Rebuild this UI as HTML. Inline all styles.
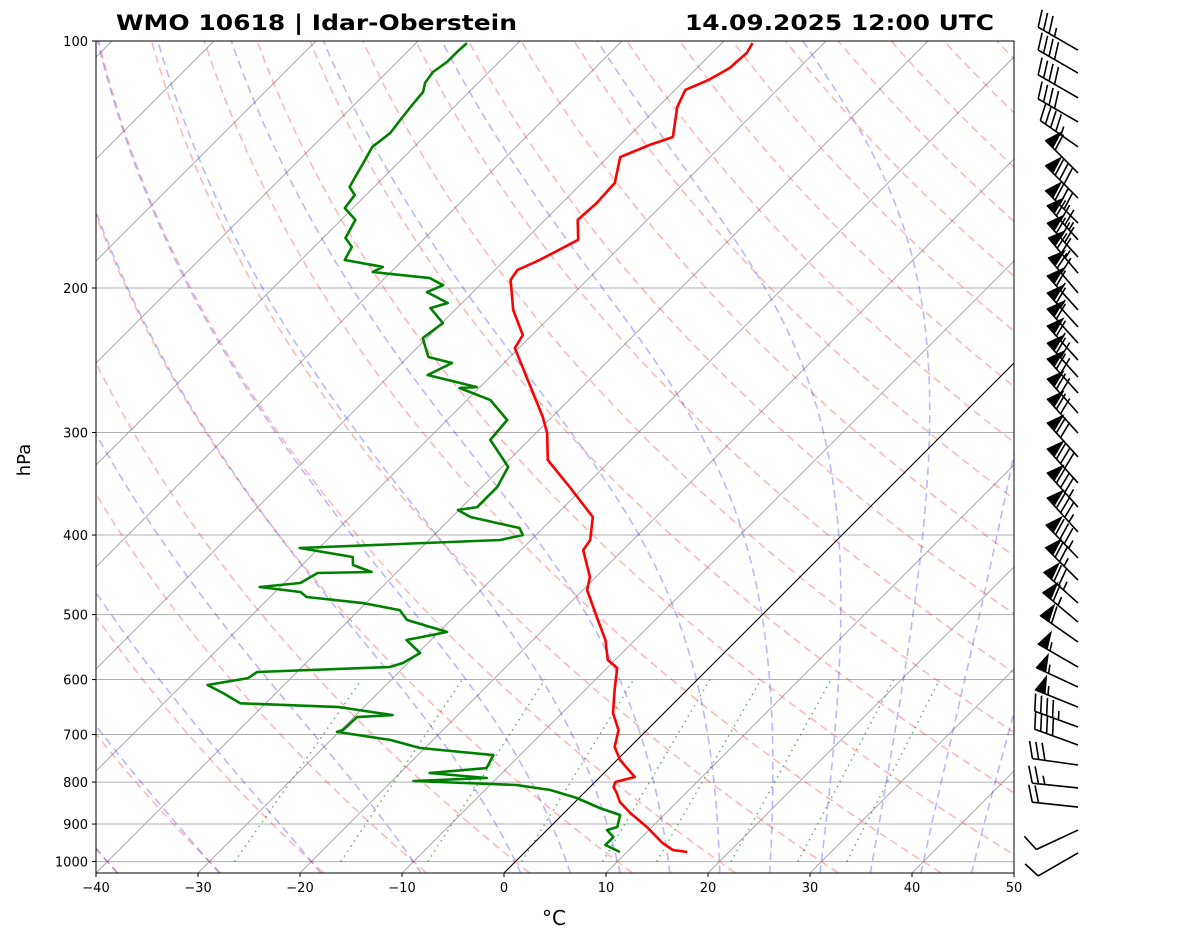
<!DOCTYPE html>
<html><head><meta charset="utf-8"><title>Skew-T Idar-Oberstein</title>
<style>html,body{margin:0;padding:0;background:#fff;}svg{display:block;font-family:"DejaVu Sans","Liberation Sans",sans-serif;}</style>
</head><body>
<svg id="chart" width="1181" height="941" viewBox="0 0 1181 941" xmlns="http://www.w3.org/2000/svg">
<defs><clipPath id="plotclip"><rect x="96" y="41" width="918" height="832"/></clipPath></defs>
<rect x="0" y="0" width="1181" height="941" fill="#fff"/>
<text x="116" y="30" font-size="21" font-weight="bold" textLength="401" lengthAdjust="spacingAndGlyphs">WMO 10618 | Idar-Oberstein</text>
<text x="685" y="30" font-size="21" font-weight="bold" textLength="309" lengthAdjust="spacingAndGlyphs">14.09.2025 12:00 UTC</text>
<g id="bg" clip-path="url(#plotclip)"></g>
<g id="series" clip-path="url(#plotclip)"></g>
<rect x="96" y="41" width="918" height="832" fill="none" stroke="#000" stroke-width="1"/>
<g id="axes"></g>
<g id="barbs"></g>
<text x="554" y="925" font-size="20" text-anchor="middle">°C</text>
<text x="30" y="460" font-size="18" text-anchor="middle" transform="rotate(-90 30 460)">hPa</text>
</svg>
<script>
// ---- data ----
const tempP=[100.6,103.4,107.9,111.6,114.7,120.4,130.9,133.9,138.5,148.9,157.6,165.2,174.7,184.9,190.1,195.5,212.7,228.2,236.7,256.8,287.2,300.5,324.0,349.6,380.2,405.6,417.2,450.0,466.7,503.4,537.0,568.0,580.9,617.9,659.0,691.2,725.0,751.9,788.6,799.8,811.1,824.8,846.0,872.6,907.5,949.1,968.0,973.4];
const tempT=[-57.0,-56.6,-56.8,-57.7,-59.0,-58.1,-55.6,-57.1,-58.8,-56.8,-56.6,-56.8,-54.8,-56.6,-57.8,-57.5,-54.3,-50.9,-50.4,-46.4,-40.9,-38.9,-36.2,-31.4,-26.2,-24.2,-23.9,-20.6,-19.6,-16.0,-12.9,-10.7,-9.0,-7.1,-5.0,-2.8,-1.5,0.3,3.4,2.0,2.3,3.2,4.4,6.5,9.5,12.6,14.3,15.9];
const dewP=[100.6,103.1,106.1,109.1,112.5,115.4,119.7,124.8,129.4,134.6,140.8,147.7,150.6,154.1,159.8,165.2,173.8,178.2,184.9,188.5,191.2,194.5,198.4,202.3,208.6,211.6,220.7,230.2,242.7,246.8,255.3,264.1,264.8,273.9,289.6,306.3,330.4,349.6,369.8,372.9,380.2,392.2,399.9,405.6,414.8,425.4,435.1,443.7,444.9,457.6,462.8,469.3,476.0,484.1,493.7,507.7,525.1,537.0,556.9,572.8,579.3,587.5,597.5,609.3,623.1,641.4,648.2,662.9,666.6,691.2,695.0,710.8,727.1,741.6,769.2,779.8,790.9,797.6,806.6,817.9,836.6,860.4,877.5,907.5,915.3,933.3,954.5,973.4];
const dewT=[-85.0,-85.1,-85.1,-85.5,-85.2,-84.5,-84.3,-84.0,-83.7,-84.1,-83.4,-82.7,-82.4,-81.1,-80.8,-78.6,-77.8,-76.3,-75.7,-71.3,-71.8,-65.6,-63.6,-64.5,-61.4,-62.6,-59.9,-60.4,-58.0,-55.1,-56.3,-50.3,-51.9,-47.7,-44.1,-43.8,-39.4,-38.5,-38.5,-40.1,-38.2,-32.3,-31.3,-33.0,-51.9,-45.8,-45.0,-42.5,-47.7,-48.4,-52.0,-47.5,-46.4,-40.3,-36.0,-34.3,-29.2,-32.4,-29.8,-30.5,-31.4,-43.9,-44.2,-47.5,-45.2,-42.5,-32.4,-26.4,-29.7,-29.8,-30.2,-24.2,-20.5,-12.6,-12.0,-17.1,-11.0,-17.9,-7.4,-3.6,-0.2,3.0,5.7,6.6,5.9,7.2,7.2,9.3];
const barbP=[102.6,109.4,117.3,125.5,134.6,144.8,155.4,166.7,174.7,183.4,191.8,202.8,212.7,223.1,233.4,244.8,256.8,268.5,284.0,300.5,321.3,345.6,369.8,396.6,426.6,453.9,484.1,510.6,540.0,579.3,612.8,648.2,685.5,721.0,762.6,813.3,858.0,915.3,976.1];
const barbSpd=[35,40,40,40,45,60,80,80,85,80,75,70,65,65,60,65,70,70,70,70,70,80,85,85,85,75,75,65,60,55,55,55,45,40,30,25,20,10,10];
const barbDir=[300,300,300,300,305,315,315,315,318,318,320,320,318,318,318,318,318,318,318,318,318,318,318,318,316,315,312,310,305,300,295,292,290,290,278,276,276,245,240];
const xTicks=[-40,-30,-20,-10,0,10,20,30,40,50];
const pTicks=[100,200,300,400,500,600,700,800,900,1000];
const dryT0=[-50,-40,-30,-20,-10,0,10,20,30,40,50,60,70,80,90,100,110,120,130,140,150,160,170,180,190,200];
const moistT0=[-50,-40,-30,-20,-10,0,5,10,15,20,25,30,35,40,45];
const mixW=[0.0004,0.001,0.002,0.004,0.007,0.01,0.016,0.024,0.032];

// ---- axis functions ----
const PBOT=1032;
function yOf(p){return 41+820.6*Math.log10(p/100);}
function xOf(T,p){return 504+10.2*T+(873-yOf(p));}
const NS='http://www.w3.org/2000/svg';
function mk(tag,attrs,parent){const e=document.createElementNS(NS,tag);for(const k in attrs)e.setAttribute(k,attrs[k]);parent.appendChild(e);return e;}
function ptsStr(Ts,Ps){return Ts.map((t,i)=>xOf(t,Ps[i]).toFixed(1)+','+yOf(Ps[i]).toFixed(1)).join(' ');}
const bg=document.getElementById('bg'),series=document.getElementById('series'),axes=document.getElementById('axes'),barbs=document.getElementById('barbs');
const pres=[];for(let p=PBOT;p>=100;p-=4)pres.push(p);pres.push(100);

pTicks.forEach(p=>{
 const l=mk('line',{x1:96,x2:1014,y1:yOf(p),y2:yOf(p),stroke:'#b0b0b0','stroke-width':1},bg);
 
 
});
for(let T=-150;T<=50;T+=10){
 const l=mk('line',{x1:xOf(T,PBOT),y1:yOf(PBOT),x2:xOf(T,100),y2:yOf(100),stroke:'#a0a0a0','stroke-width':0.9},bg);
 
 
}
dryT0.forEach(t0=>{
 const th=t0+273.15;const Ts=pres.map(p=>th*Math.pow(p/1000,0.2857)-273.15);
 const l=mk('polyline',{points:ptsStr(Ts,pres),fill:'none',stroke:'rgba(255,0,0,0.28)','stroke-width':1.6,'stroke-dasharray':'8,5'},bg);
 
 
});
function es(T){return 6.112*Math.exp(17.67*T/(T+243.5));}
function dTdp(Tc,p){const T=Tc+273.15;const e=es(Tc);const rs=0.622*e/(p-e);return (287.04*T+2.501e6*rs)/(p*(1005.7+2.501e6*2.501e6*rs*0.622/(287.04*T*T)));}
function moist(t0){
 const up=[],down=[];let T=t0;
 for(let p=1000;p>=100;p-=2){up.push([p,T]);const k1=dTdp(T,p),k2=dTdp(T-1*k1,p-1);T-=2*k2;}
 T=t0;for(let p=1000;p<=PBOT+2;p+=2){down.push([p,T]);const k1=dTdp(T,p),k2=dTdp(T+k1,p+1);T+=2*k2;}
 return down.reverse().concat(up);
}
moistT0.forEach(t0=>{
 const arr=moist(t0);
 const l=mk('polyline',{points:ptsStr(arr.map(a=>a[1]),arr.map(a=>a[0])),fill:'none',stroke:'rgba(0,0,255,0.28)','stroke-width':1.6,'stroke-dasharray':'8,5'},bg);
 
 
});
mixW.forEach(w=>{
 const ps=[1000,600];const Ts=ps.map(p=>{const e=p*w/(0.622+w);const L=Math.log(e/6.112);return 243.5*L/(17.67-L);});
 const l=mk('line',{x1:xOf(Ts[0],1000),y1:yOf(1000),x2:xOf(Ts[1],600),y2:yOf(600),stroke:'rgba(0,128,0,0.6)','stroke-width':1.5,'stroke-dasharray':'1.5,4.5'},bg);
 
 
});
const z=mk('line',{x1:xOf(0,PBOT),y1:yOf(PBOT),x2:xOf(0,100),y2:yOf(100),stroke:'#000','stroke-width':1},bg);



const tl=mk('polyline',{points:ptsStr(tempT,tempP),fill:'none',stroke:'#ff0000','stroke-width':2.6,'stroke-linejoin':'round'},series);


const dl=mk('polyline',{points:ptsStr(dewT,dewP),fill:'none',stroke:'#008000','stroke-width':2.6,'stroke-linejoin':'round'},series);



xTicks.forEach(t=>{
 const x=504+10.2*t;
 const tk=mk('line',{x1:x,x2:x,y1:873,y2:877,stroke:'#000','stroke-width':1},axes);
 
 
 const tx=mk('text',{x:x,y:892,'font-size':13,'text-anchor':'middle'},axes);
 tx.textContent=(t<0?'\u2212'+(-t):String(t));
 
 
});
pTicks.forEach(p=>{
 const y=yOf(p);
 const tk=mk('line',{x1:92,x2:96,y1:y,y2:y,stroke:'#000','stroke-width':1},axes);
 
 
 const tx=mk('text',{x:88,y:y+5,'font-size':13,'text-anchor':'end'},axes);
 tx.textContent=String(p);
 
 
});

const L=46,H=17,W=10.5,S=6.3,OX=1078;
barbP.forEach((p,i)=>{
 const spd=barbSpd[i],dir=barbDir[i]*Math.PI/180;
 const ox=OX,oy=yOf(p);
 const d=[Math.sin(dir),-Math.cos(dir)],n=[-d[1],d[0]];
 const tx=ox+d[0]*L,ty=oy+d[1]*L;
 const g=mk('g',{},barbs);
 
 
 mk('line',{x1:ox,y1:oy,x2:tx,y2:ty,stroke:'#000','stroke-width':1.6},g);
 let r=Math.round(spd/5)*5;let flags=Math.floor(r/50);r-=flags*50;let full=Math.floor(r/10);r-=full*10;let half=r>=5?1:0;
 let off=0;
 for(let k=0;k<flags;k++){
  const p1=[tx-d[0]*off,ty-d[1]*off];
  const ap=[p1[0]+n[0]*H-d[0]*W/2,p1[1]+n[1]*H-d[1]*W/2];
  const p2=[p1[0]-d[0]*W,p1[1]-d[1]*W];
  mk('polygon',{points:p1.join(',')+' '+ap.join(',')+' '+p2.join(','),fill:'#000',stroke:'#000','stroke-width':1},g);
  off+=W+S*0.5;
 }
 if(flags===0&&full===0&&half)off+=S;
 for(let k=0;k<full;k++){
  const p1=[tx-d[0]*off,ty-d[1]*off];
  mk('line',{x1:p1[0],y1:p1[1],x2:p1[0]+n[0]*H+d[0]*W/2,y2:p1[1]+n[1]*H+d[1]*W/2,stroke:'#000','stroke-width':1.6},g);
  off+=S;
 }
 if(half){
  const p1=[tx-d[0]*off,ty-d[1]*off];
  mk('line',{x1:p1[0],y1:p1[1],x2:p1[0]+n[0]*H/2+d[0]*W/4,y2:p1[1]+n[1]*H/2+d[1]*W/4,stroke:'#000','stroke-width':1.6},g);
 }
});
</script>
</body></html>
